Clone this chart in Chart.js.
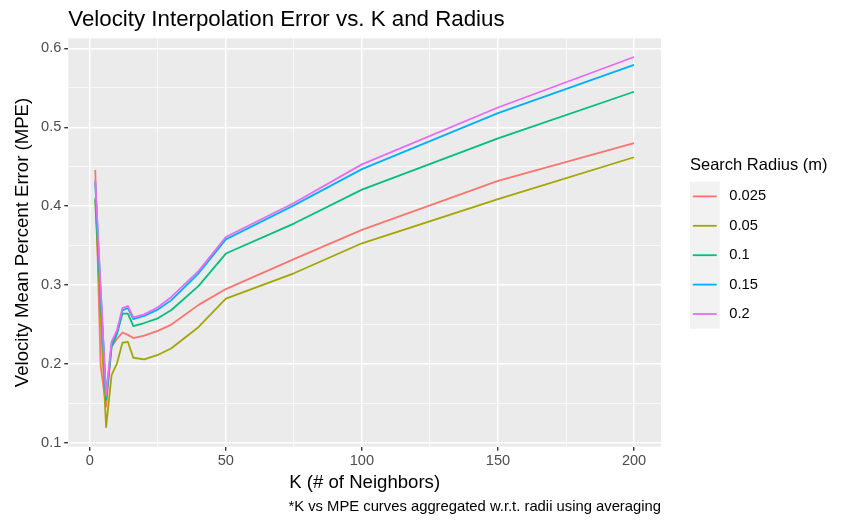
<!DOCTYPE html>
<html>
<head>
<meta charset="utf-8">
<script src="https://cdn.jsdelivr.net/npm/chart.js@4"></script>
<style>
  html, body { margin: 0; padding: 0; background: #ffffff; }
  #wrap { width: 847px; height: 520px; position: relative; }
</style>
</head>
<body>
<div id="wrap"><canvas id="c" width="847" height="520"></canvas></div>
<script>
// ---- data ----
const kValues = [2, 4, 6, 8, 10, 12, 14, 16, 20, 25, 30, 40, 50, 75, 100, 150, 200];
const radiusLabels = ["0.025", "0.05", "0.1", "0.15", "0.2"];
const mpe_0025 = [0.446, 0.197, 0.146, 0.222, 0.232, 0.240, 0.237, 0.233, 0.236, 0.242, 0.250, 0.275, 0.295, 0.333, 0.370, 0.432, 0.480];
const mpe_005  = [0.408, 0.260, 0.120, 0.186, 0.201, 0.227, 0.228, 0.208, 0.206, 0.2115, 0.220, 0.247, 0.283, 0.315, 0.353, 0.409, 0.462];
const mpe_01   = [0.410, 0.285, 0.155, 0.222, 0.238, 0.264, 0.264, 0.248, 0.252, 0.258, 0.2685, 0.299, 0.340, 0.378, 0.421, 0.486, 0.545];
const mpe_015  = [0.430, 0.292, 0.158, 0.226, 0.240, 0.268, 0.271, 0.257, 0.261, 0.269, 0.281, 0.315, 0.358, 0.401, 0.447, 0.518, 0.579];
const mpe_02   = [0.433, 0.296, 0.160, 0.228, 0.243, 0.271, 0.2735, 0.259, 0.263, 0.272, 0.285, 0.318, 0.361, 0.404, 0.453, 0.525, 0.589];
const xTickValues = [0, 25, 50, 75, 100, 125, 150, 175, 200];
const xMajorTicks = [0, 50, 100, 150, 200];
const yTickValues = [0.1, 0.15, 0.2, 0.25, 0.3, 0.35, 0.4, 0.45, 0.5, 0.55, 0.6];
const yMajorTicks = [0.1, 0.2, 0.3, 0.4, 0.5, 0.6];

const chartTitle = "Velocity Interpolation Error vs. K and Radius";
const xTitle = "K (# of Neighbors)";
const yTitle = "Velocity Mean Percent Error (MPE)";
const legendTitle = "Search Radius (m)";
const caption = "*K vs MPE curves aggregated w.r.t. radii using averaging";

// ---- styling ----
const seriesValues = [mpe_0025, mpe_005, mpe_01, mpe_015, mpe_02];
const colors = ["#F8766D", "#A3A500", "#00BF7D", "#00B0F6", "#E76BF3"];
const FONT = '"Liberation Sans", Arial, sans-serif';
const PANEL = { left: 68.3, top: 38.3, right: 661, bottom: 446.7 };

const isMajor = (v, list) => list.some(m => Math.abs(m - v) < 1e-9);

const datasets = seriesValues.map((vals, i) => ({
  label: radiusLabels[i],
  data: kValues.map((k, j) => ({ x: k, y: vals[j] })),
  borderColor: colors[i],
  backgroundColor: colors[i],
  borderWidth: 1.8,
  pointRadius: 0,
  tension: 0,
  fill: false,
  borderJoinStyle: 'round',
  borderCapStyle: 'butt',
  order: seriesValues.length - 1 - i
}));

const decorPlugin = {
  id: 'decor',
  beforeDraw(chart) {
    const ctx = chart.ctx;
    const a = chart.chartArea;
    ctx.save();
    ctx.fillStyle = '#ffffff';
    ctx.fillRect(0, 0, chart.width, chart.height);
    ctx.fillStyle = '#EBEBEB';
    ctx.fillRect(a.left, a.top, a.right - a.left, a.bottom - a.top);
    ctx.restore();
  },
  afterDraw(chart) {
    const ctx = chart.ctx;
    const a = chart.chartArea;
    ctx.save();
    // title
    ctx.fillStyle = '#000000';
    ctx.font = '22.3px ' + FONT;
    ctx.textAlign = 'left';
    ctx.textBaseline = 'alphabetic';
    ctx.fillText(chartTitle, a.left, 25.5);
    // x title
    ctx.font = '18.6px ' + FONT;
    ctx.textAlign = 'center';
    ctx.textBaseline = 'middle';
    ctx.fillText(xTitle, (a.left + a.right) / 2, 483);
    // y title
    ctx.save();
    ctx.translate(23, (a.top + a.bottom) / 2);
    ctx.rotate(-Math.PI / 2);
    ctx.fillText(yTitle, 0, 0);
    ctx.restore();
    // caption
    ctx.font = '14.8px ' + FONT;
    ctx.textAlign = 'right';
    ctx.fillText(caption, a.right, 507);
    // legend
    ctx.textAlign = 'left';
    ctx.font = '16.5px ' + FONT;
    ctx.fillText(legendTitle, 690, 165);
    const keyX = 690, keyY = 181.7, keyW = 29.7, keyH = 29.4;
    ctx.fillStyle = '#F2F2F2';
    ctx.fillRect(keyX, keyY, keyW, keyH * radiusLabels.length);
    ctx.font = '14.7px ' + FONT;
    radiusLabels.forEach((lab, i) => {
      const cy = keyY + keyH * (i + 0.5);
      ctx.strokeStyle = colors[i];
      ctx.lineWidth = 1.8;
      ctx.beginPath();
      ctx.moveTo(keyX + 2.8, cy);
      ctx.lineTo(keyX + keyW - 3, cy);
      ctx.stroke();
      ctx.fillStyle = '#000000';
      ctx.fillText(lab, 729.3, cy);
    });
    ctx.restore();
  }
};

new Chart(document.getElementById('c'), {
  type: 'line',
  data: { datasets },
  plugins: [decorPlugin],
  options: {
    responsive: false,
    animation: false,
    devicePixelRatio: 1,
    layout: { padding: { left: 0, top: PANEL.top, right: 847 - PANEL.right, bottom: 0 } },
    plugins: { legend: { display: false }, title: { display: false }, tooltip: { enabled: false } },
    scales: {
      x: {
        type: 'linear',
        min: -7.9,
        max: 209.9,
        afterFit(s) { s.height = 520 - PANEL.bottom; },
        afterBuildTicks(s) { s.ticks = xTickValues.map(v => ({ value: v })); },
        border: { display: false },
        grid: {
          color: '#ffffff',
          lineWidth: c => isMajor(c.tick.value, xMajorTicks) ? 1.4 : 0.7,
          tickColor: c => isMajor(c.tick.value, xMajorTicks) ? '#333333' : 'rgba(0,0,0,0)',
          tickLength: 4,
          drawTicks: true
        },
        ticks: {
          autoSkip: false,
          maxRotation: 0,
          padding: 2,
          color: '#4D4D4D',
          font: { family: FONT, size: 14.6 },
          callback: v => isMajor(v, xMajorTicks) ? String(v) : ''
        }
      },
      y: {
        type: 'linear',
        min: 0.0953,
        max: 0.6127,
        afterFit(s) { s.width = PANEL.left; },
        afterBuildTicks(s) { s.ticks = yTickValues.map(v => ({ value: v })); },
        border: { display: false },
        grid: {
          color: '#ffffff',
          lineWidth: c => isMajor(c.tick.value, yMajorTicks) ? 1.4 : 0.7,
          tickColor: c => isMajor(c.tick.value, yMajorTicks) ? '#333333' : 'rgba(0,0,0,0)',
          tickLength: 4,
          drawTicks: true
        },
        ticks: {
          autoSkip: false,
          padding: 3,
          color: '#4D4D4D',
          font: { family: FONT, size: 14.6 },
          callback: v => isMajor(v, yMajorTicks) ? v.toFixed(1) : ''
        }
      }
    }
  }
});
</script>
</body>
</html>
